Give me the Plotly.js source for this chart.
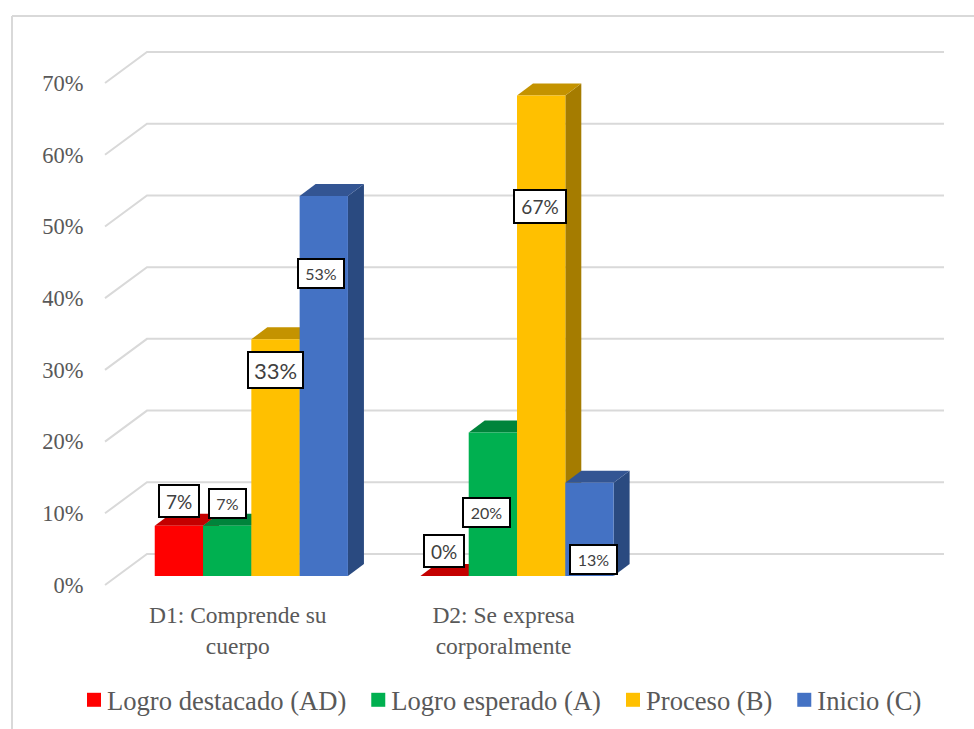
<!DOCTYPE html>
<html>
<head>
<meta charset="utf-8">
<script src="https://cdn.plot.ly/plotly-3.0.1.min.js"></script>
<style>html,body{margin:0;padding:0;background:#fff}#chart{width:974px;height:729px}</style>
</head>
<body>
<div id="chart"></div>
<script>
var categories = ['D1: Comprende su<br>cuerpo', 'D2: Se expresa<br>corporalmente'];
var seriesNames = ['Logro destacado (AD)', 'Logro esperado (A)', 'Proceso (B)', 'Inicio (C)'];
var logroDestacado = [7, 0];
var logroEsperado = [7, 20];
var proceso = [33, 67];
var inicio = [53, 13];
var tickValues = [0, 10, 20, 30, 40, 50, 60, 70];
var tickLabels = ['0%', '10%', '20%', '30%', '40%', '50%', '60%', '70%'];

var frontColors = ['#ff0000', '#00b050', '#ffc000', '#4472c4'];
var topColors = ['#c40000', '#00843b', '#c49300', '#335593'];
var sideColors = ['#a60000', '#00702f', '#a57c00', '#2a4a80'];

var W = 974, H = 729, L = 100, R = 960, T = 30, B = 591;
var pxX = 265.67, pxY = 7.171, x0 = 105, y0 = 585;
var xr = [(L - x0) / pxX, (R - x0) / pxX], yr = [(y0 - B) / pxY, (y0 - T) / pxY];
// bar plane sits between the axis plane and the back wall
var planeX = 13.5 / pxX, planeY = 9 / pxY;
var depthX = 16 / pxX, depthY = 12 / pxY;
var wallX = 42 / pxX, wallY = 31 / pxY;
var groupWidth = 193.2 / pxX;
var centers = [0.5, 1.5];
var seriesValues = [logroDestacado, logroEsperado, proceso, inicio];
var barW = groupWidth / 4;

function paperX(p) { return (p - L) / (R - L); }
function paperY(p) { return (B - p) / (B - T); }

var traces = [];
// back wall gridlines
tickValues.forEach(function (v) {
  traces.push({
    type: 'scatter', mode: 'lines', xaxis: 'x', yaxis: 'y', showlegend: false, hoverinfo: 'skip',
    x: [0, wallX, 3 + wallX], y: [v, v + wallY, v + wallY],
    line: { color: '#d9d9d9', width: 2 }
  });
});
// top and side faces, left to right
centers.forEach(function (c, ci) {
  seriesValues.forEach(function (vals, si) {
    var v = vals[ci];
    var xl = c - groupWidth / 2 + si * barW + planeX, xr2 = xl + barW;
    var base = planeY, top = v + planeY;
    if (v > 0) {
      traces.push({
        type: 'scatter', mode: 'lines', fill: 'toself', showlegend: false, hoverinfo: 'skip',
        fillcolor: sideColors[si], line: { width: 0, color: sideColors[si] },
        x: [xr2, xr2 + depthX, xr2 + depthX, xr2, xr2],
        y: [base, base + depthY, top + depthY, top, base]
      });
    }
    traces.push({
      type: 'scatter', mode: 'lines', fill: 'toself', showlegend: false, hoverinfo: 'skip',
      fillcolor: topColors[si], line: { width: 0, color: topColors[si] },
      x: [xl, xr2, xr2 + depthX, xl + depthX, xl],
      y: [top, top, top + depthY, top + depthY, top]
    });
  });
});
// front faces on the overlay axes
seriesValues.forEach(function (vals, si) {
  traces.push({
    type: 'bar', name: seriesNames[si], x: centers, y: vals, xaxis: 'x2', yaxis: 'y2',
    marker: { color: frontColors[si], line: { width: 0 } }, showlegend: false,
    hovertemplate: '%{y}%<extra>' + seriesNames[si] + '</extra>'
  });
});
// legend keys
seriesNames.forEach(function (n, si) {
  traces.push({
    type: 'scatter', mode: 'markers', name: n, x: [null], y: [null], xaxis: 'x', yaxis: 'y',
    marker: { symbol: 'square', size: 14, color: frontColors[si] }
  });
});

var labelBoxes = [
  { t: '7%', cx: 179, cy: 501, w: 42, h: 34, f: 19 },
  { t: '7%', cx: 227.5, cy: 503.5, w: 39, h: 31, f: 16 },
  { t: '33%', cx: 275.5, cy: 370, w: 57, h: 38, f: 22 },
  { t: '53%', cx: 321, cy: 273.5, w: 48, h: 31, f: 16 },
  { t: '67%', cx: 540, cy: 206.5, w: 54, h: 35, f: 19 },
  { t: '0%', cx: 444, cy: 551, w: 42, h: 34, f: 19 },
  { t: '20%', cx: 486.5, cy: 512.5, w: 49, h: 31, f: 16 },
  { t: '13%', cx: 593.5, cy: 559.5, w: 49, h: 31, f: 16 }
];
var annotations = labelBoxes.map(function (b) {
  return {
    text: b.t, xref: 'paper', yref: 'paper', x: paperX(b.cx), y: paperY(b.cy),
    xanchor: 'center', yanchor: 'middle', showarrow: false, align: 'center', valign: 'middle',
    width: b.w - 4, height: b.h - 4, borderpad: 0, borderwidth: 2, bordercolor: '#000000', bgcolor: '#ffffff',
    font: { family: 'Lato, Carlito, sans-serif', size: b.f, color: '#404040' }
  };
});

var serif = '"Liberation Serif", "Times New Roman", serif';
var layout = {
  width: W, height: H, autosize: false,
  margin: { l: L, r: W - R, t: T, b: H - B, pad: 0, autoexpand: false },
  paper_bgcolor: '#ffffff', plot_bgcolor: 'rgba(0,0,0,0)',
  barmode: 'group', bargap: 1 - groupWidth, bargroupgap: 0,
  showlegend: true,
  legend: {
    orientation: 'h', x: paperX(67), y: paperY(676), xanchor: 'left', yanchor: 'top',
    font: { family: serif, size: 26.6, color: '#595959' }, bgcolor: 'rgba(0,0,0,0)',
    itemclick: false, itemdoubleclick: false, traceorder: 'normal'
  },
  xaxis: {
    range: xr, tickmode: 'array', tickvals: centers, ticktext: categories,
    showgrid: false, zeroline: false, showline: false, ticks: 'outside', ticklen: 3, tickcolor: 'rgba(0,0,0,0)',
    tickangle: 0, tickfont: { family: serif, size: 23.5, color: '#595959' }, fixedrange: true, automargin: false
  },
  yaxis: {
    range: yr, tickmode: 'array', tickvals: tickValues, ticktext: tickLabels,
    showgrid: false, zeroline: false, showline: false, ticks: 'outside', ticklen: 11, tickcolor: 'rgba(0,0,0,0)',
    tickfont: { family: serif, size: 22.5, color: '#595959' }, fixedrange: true, automargin: false
  },
  xaxis2: { overlaying: 'x', range: [xr[0] - planeX, xr[1] - planeX], visible: false, fixedrange: true, anchor: 'y2' },
  yaxis2: { overlaying: 'y', range: [yr[0] - planeY, yr[1] - planeY], visible: false, fixedrange: true, anchor: 'x2' },
  annotations: annotations,
  shapes: [
    { type: 'line', xref: 'paper', yref: 'paper', x0: paperX(12), x1: paperX(12), y0: paperY(16), y1: paperY(729), line: { color: '#d9d9d9', width: 2 } },
    { type: 'line', xref: 'paper', yref: 'paper', x0: paperX(12), x1: paperX(974), y0: paperY(16), y1: paperY(16), line: { color: '#d9d9d9', width: 2 } }
  ]
};
Plotly.newPlot('chart', traces, layout, { displayModeBar: false, staticPlot: true }).then(function () {
  // the reference keeps each legend key close to its text
  document.querySelectorAll('#chart .legendsymbols').forEach(function (g) {
    g.setAttribute('transform', 'translate(7,0)');
  });
});
</script>
</body>
</html>
